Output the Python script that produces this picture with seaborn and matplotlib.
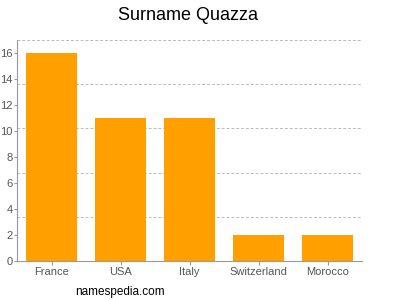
import matplotlib
matplotlib.use("Agg")
import matplotlib.pyplot as plt
from matplotlib.ticker import FixedLocator
import seaborn as sns
import pandas as pd

countries = ["France", "USA", "Italy", "Switzerland", "Morocco"]
counts = [16, 11, 11, 2, 2]
y_ticks = [0, 2, 4, 6, 8, 10, 12, 14, 16]
grid_lines = [3.4, 6.8, 10.2, 13.6, 17]

sns.set_theme(style="white")
plt.rcParams['font.family'] = ['Liberation Sans', 'DejaVu Sans']

df = pd.DataFrame({"country": countries, "count": counts})

fig = plt.figure(figsize=(4, 3), dpi=100)
ax = fig.add_axes([0.0425, 0.13, 0.8625, 0.7367])
sns.barplot(data=df, x="country", y="count", color="#FFA000", saturation=1,
            width=0.725, ax=ax, zorder=3, linewidth=0, edgecolor="none")

ax.set_xlim(-0.5, 4.5)
ax.set_ylim(0, 17)
ax.set_yticks(y_ticks)
ax.yaxis.set_minor_locator(FixedLocator(grid_lines))
ax.grid(which="minor", axis="y", color="#BBBBBB", linestyle=(0, (3, 2)), linewidth=0.7, zorder=0)
ax.grid(which="major", visible=False)
ax.set_xlabel("")
ax.set_ylabel("")
for s in ["top", "right"]:
    ax.spines[s].set_visible(False)
for s in ["left", "bottom"]:
    ax.spines[s].set_color("#999999")
    ax.spines[s].set_linewidth(0.8)
ax.tick_params(axis="both", which="major", labelsize=8, labelcolor="#555555",
               color="#999999", length=3, width=0.8, left=True, bottom=True, pad=1.5)
ax.tick_params(axis="y", which="major", length=2, pad=1)
ax.tick_params(axis="y", which="minor", length=0)

fig.text(0.47, 0.95, "Surname Quazza", ha="center", va="center", fontsize=13, color="#000000")
fig.text(0.3, 0.027, "namespedia.com", ha="center", va="center", fontsize=8.5, color="#000000")

fig.savefig("out.png", dpi=100)
